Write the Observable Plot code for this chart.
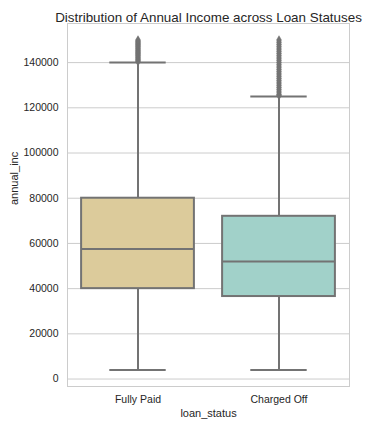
<!DOCTYPE html>
<html>
<head>
<meta charset="utf-8">
<script src="https://cdn.jsdelivr.net/npm/d3@7"></script>
<script src="https://cdn.jsdelivr.net/npm/@observablehq/plot@0.6"></script>
<style>
  html, body { margin: 0; padding: 0; background: #fff; }
  svg { font-family: "Liberation Sans", Arial, sans-serif; }
</style>
</head>
<body>
<div id="chart"></div>
<script>
// Data
const categories = ["Fully Paid", "Charged Off"];
const boxColors = ["#dccb9b", "#a1d1c9"];
const q1 = [40000, 36500];
const median = [57500, 52000];
const q3 = [80000, 72000];
const whiskerLow = [4000, 4000];
const whiskerHigh = [140000, 125000];
const outliersFullyPaid = [140500, 141000, 141500, 142000, 142500, 143000, 143500, 144000, 144500, 145000, 145500, 146000, 146500, 147000, 147500, 148000, 148500, 149000, 149500, 150000];
const outliersChargedOff = [125500, 126000, 127000, 128000, 129000, 130000, 131000, 132000, 133000, 134000, 135000, 136000, 137000, 138000, 139000, 140000, 141000, 142000, 143000, 144000, 145000, 146000, 147000, 148000, 149000, 150000];
const yTicks = [0, 20000, 40000, 60000, 80000, 100000, 120000, 140000];

const boxes = categories.map((c, i) => ({
  cat: c, color: boxColors[i], q1: q1[i], med: median[i], q3: q3[i],
  lo: whiskerLow[i], hi: whiskerHigh[i]
}));
const outliers = [
  ...outliersFullyPaid.map(v => ({cat: categories[0], v})),
  ...outliersChargedOff.map(v => ({cat: categories[1], v}))
];

const W = 369, H = 426;
const mL = 67, mR = 20, mT = 23, mB = 40;
const bw = (W - mL - mR) / categories.length;
const boxInset = bw * 0.1;
const capInset = bw * 0.3;
const lineColor = "#737373";

const chart = Plot.plot({
  width: W,
  height: H,
  marginLeft: mL, marginRight: mR, marginTop: mT, marginBottom: mB,
  style: {fontFamily: "Liberation Sans, Arial, sans-serif", fontSize: "10.5px", color: "#262626", background: "#fff"},
  x: {domain: categories, padding: 0, label: null, tickSize: 0, tickPadding: 9},
  y: {domain: [-3300, 157300], ticks: yTicks, tickFormat: d3.format("d"), label: null, tickSize: 0, tickPadding: 9},
  marks: [
    Plot.gridY(yTicks, {stroke: "#cccccc", strokeOpacity: 1, strokeWidth: 1}),
    Plot.frame({stroke: "#cccccc", strokeWidth: 1}),
    // whiskers
    Plot.ruleX(boxes, {x: "cat", y1: "lo", y2: "q1", stroke: lineColor, strokeWidth: 2}),
    Plot.ruleX(boxes, {x: "cat", y1: "q3", y2: "hi", stroke: lineColor, strokeWidth: 2}),
    // caps
    Plot.tickY(boxes, {x: "cat", y: "lo", stroke: lineColor, strokeWidth: 2, insetLeft: capInset, insetRight: capInset}),
    Plot.tickY(boxes, {x: "cat", y: "hi", stroke: lineColor, strokeWidth: 2, insetLeft: capInset, insetRight: capInset}),
    // boxes
    Plot.barY(boxes, {x: "cat", y1: "q1", y2: "q3", fill: "color", stroke: lineColor, strokeWidth: 2, insetLeft: boxInset, insetRight: boxInset}),
    // medians
    Plot.tickY(boxes, {x: "cat", y: "med", stroke: lineColor, strokeWidth: 2, insetLeft: boxInset, insetRight: boxInset}),
    // outliers
    Plot.dot(outliers, {x: "cat", y: "v", symbol: "diamond", r: 2.6, fill: lineColor, stroke: lineColor, strokeWidth: 0.5}),
    // title and axis labels
    Plot.text(["Distribution of Annual Income across Loan Statuses"], {frameAnchor: "top", dy: -11, fontSize: 13.4, fill: "#262626"}),
    Plot.text(["annual_inc"], {frameAnchor: "left", dx: -53, rotate: -90, fontSize: 11, fill: "#262626"}),
    Plot.text(["loan_status"], {frameAnchor: "bottom", dy: 30, fontSize: 11, fill: "#262626"})
  ]
});
document.getElementById("chart").appendChild(chart);
</script>
</body>
</html>
